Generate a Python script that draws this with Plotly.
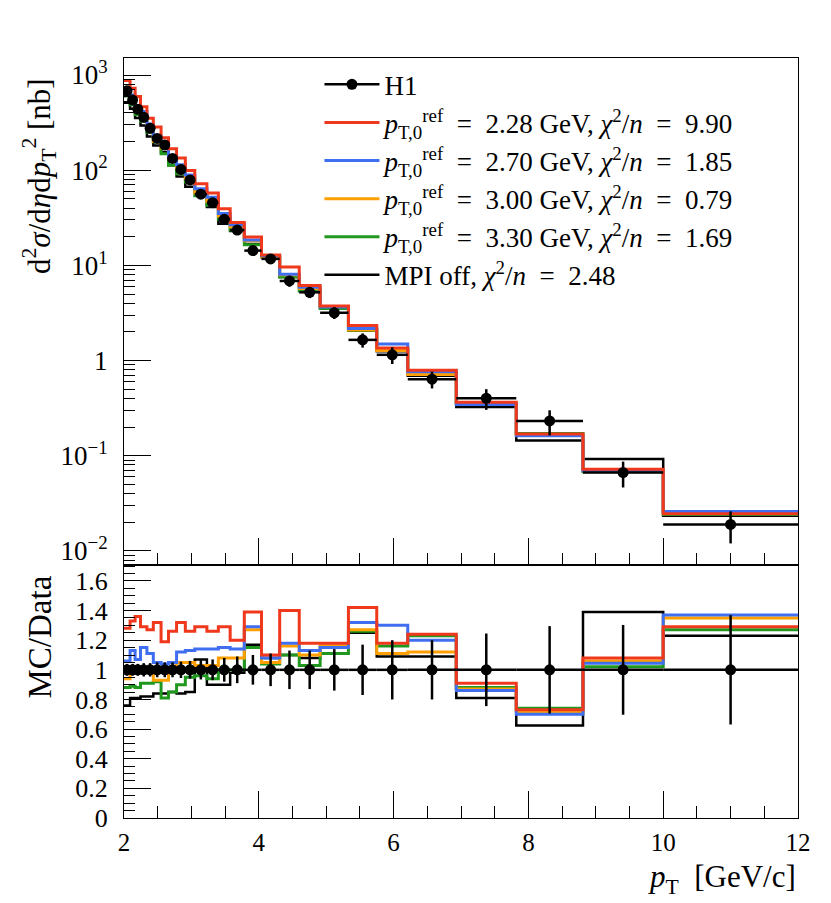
import numpy as np
import plotly.graph_objects as go
from plotly.subplots import make_subplots

# pT bin edges [GeV/c]
edges = [2.0, 2.09, 2.165, 2.245, 2.34, 2.435, 2.55, 2.66, 2.78, 2.91, 3.05, 3.23, 3.40, 3.575,
         3.785, 4.04, 4.31, 4.60, 4.91, 5.33, 5.75, 6.21, 6.93, 7.82, 8.81, 10.0, 12.0]

# H1 cross section [nb] and relative uncertainty
h1 = [683, 546, 437, 360, 276, 216, 184, 133, 102, 79, 56, 45.6, 30.5, 23.5, 14.3, 11.7,
      6.86, 5.21, 3.18, 1.65, 1.15, 0.637, 0.402, 0.232, 0.0666, 0.019]
h1_relerr = [0.04, 0.04, 0.04, 0.045, 0.045, 0.05, 0.05, 0.05, 0.055, 0.06, 0.065, 0.07, 0.08,
             0.09, 0.10, 0.11, 0.13, 0.13, 0.14, 0.17, 0.20, 0.20, 0.245, 0.295, 0.303, 0.369]

# MC/Data ratios
ratio_228 = [1.28, 1.33, 1.36, 1.29, 1.27, 1.32, 1.19, 1.26, 1.32, 1.26, 1.29, 1.26, 1.29,
             1.20, 1.39, 1.10, 1.40, 1.18, 1.18, 1.42, 1.18, 1.24, 0.91, 0.73, 1.08, 1.29]
ratio_270 = [1.06, 1.13, 1.07, 1.15, 1.11, 1.05, 1.04, 1.05, 1.12, 1.13, 1.14, 1.14, 1.15,
             1.14, 1.29, 1.08, 1.18, 1.13, 1.15, 1.32, 1.30, 1.20, 0.86, 0.70, 1.045, 1.37]
ratio_300 = [0.94, 1.00, 1.00, 0.99, 1.00, 0.93, 0.93, 0.99, 1.05, 1.05, 1.03, 1.03, 1.08,
             1.08, 1.27, 1.05, 1.16, 1.10, 1.16, 1.27, 1.11, 1.12, 0.87, 0.715, 1.06, 1.35]
ratio_330 = [0.88, 0.89, 0.88, 0.91, 0.91, 0.92, 0.81, 0.85, 0.90, 0.95, 0.96, 0.94, 1.00,
             1.00, 1.15, 1.04, 1.10, 1.03, 1.11, 1.26, 1.16, 1.23, 0.88, 0.74, 1.02, 1.27]
ratio_off = [0.76, 0.81, 0.81, 0.82, 0.82, 0.84, 0.84, 0.85, 0.84, 0.85, 1.07, 0.90, 0.90,
             0.98, 1.17, 1.08, 1.10, 1.08, 1.16, 1.25, 1.09, 1.09, 0.81, 0.625, 1.39, 1.23]

EQ = "&nbsp;&nbsp;=&nbsp;&nbsp;"
names = {
    "228": f"<i>p</i><sub>T,0</sub><sup>ref</sup>{EQ}2.28 GeV, <i>χ</i><sup>2</sup>/<i>n</i>{EQ}9.90",
    "270": f"<i>p</i><sub>T,0</sub><sup>ref</sup>{EQ}2.70 GeV, <i>χ</i><sup>2</sup>/<i>n</i>{EQ}1.85",
    "300": f"<i>p</i><sub>T,0</sub><sup>ref</sup>{EQ}3.00 GeV, <i>χ</i><sup>2</sup>/<i>n</i>{EQ}0.79",
    "330": f"<i>p</i><sub>T,0</sub><sup>ref</sup>{EQ}3.30 GeV, <i>χ</i><sup>2</sup>/<i>n</i>{EQ}1.69",
    "off": f"MPI off, <i>χ</i><sup>2</sup>/<i>n</i>{EQ}2.48",
}
colors = {"228": "#f0381c", "270": "#3f6ff0", "300": "#ffa000", "330": "#20981f", "off": "black"}
ratios = {"228": ratio_228, "270": ratio_270, "300": ratio_300, "330": ratio_330, "off": ratio_off}
ranks = {"228": 2, "270": 3, "300": 4, "330": 5, "off": 6}

e = np.array(edges)
centers = (e[:-1] + e[1:]) / 2
halfw = (e[1:] - e[:-1]) / 2
data = np.array(h1)

FONT = "Liberation Serif"

fig = make_subplots(rows=2, cols=1, shared_xaxes=True, vertical_spacing=0,
                    row_heights=[0.667, 0.333])

# histograms, drawn black first so red ends up on top
for key in ["off", "330", "300", "270", "228"]:
    r = np.array(ratios[key])
    mc = data * r
    lw = 2.5 if key == "off" else 3
    fig.add_trace(go.Scatter(x=e, y=list(mc) + [mc[-1]], mode="lines", line_shape="hv",
                             line=dict(color=colors[key], width=lw), name=names[key],
                             legendrank=ranks[key]), row=1, col=1)
    fig.add_trace(go.Scatter(x=e, y=list(r) + [r[-1]], mode="lines", line_shape="hv",
                             line=dict(color=colors[key], width=lw), showlegend=False),
                  row=2, col=1)

# H1 data
fig.add_trace(go.Scatter(x=centers, y=data, mode="markers",
                         marker=dict(color="black", size=11),
                         error_x=dict(type="data", array=halfw, color="black", thickness=2.5, width=0),
                         error_y=dict(type="data", array=data * np.array(h1_relerr), color="black",
                                      thickness=2.5, width=0),
                         showlegend=False), row=1, col=1)
fig.add_trace(go.Scatter(x=centers, y=np.ones(len(centers)), mode="markers",
                         marker=dict(color="black", size=11),
                         error_x=dict(type="data", array=halfw, color="black", thickness=2.5, width=0),
                         error_y=dict(type="data", array=h1_relerr, color="black",
                                      thickness=2.5, width=0),
                         showlegend=False), row=2, col=1)
# legend entry for data
fig.add_trace(go.Scatter(x=[None], y=[None], mode="lines+markers", name="H1",
                         line=dict(color="black", width=2.5), marker=dict(color="black", size=11),
                         legendrank=1), row=1, col=1)

axis_common = dict(showline=True, linecolor="black", linewidth=1, mirror=True,
                   showgrid=False, zeroline=False, ticks="inside", ticklen=27,
                   tickcolor="black", tickwidth=1)

fig.update_xaxes(range=[2, 12], dtick=2, tick0=2,
                 minor=dict(dtick=0.5, ticks="inside", ticklen=12, tickcolor="black"),
                 tickfont=dict(family=FONT, size=25, color="black"), **axis_common)
fig.update_xaxes(showticklabels=False, row=1, col=1)
fig.update_xaxes(ticklabelstandoff=2, row=2, col=1)

minor_log = [k * 10.0 ** p for p in range(-3, 4) for k in range(2, 10)]
fig.update_yaxes(type="log", range=[-2.147, 3.179],
                 tickmode="array", tickvals=[1e3, 1e2, 1e1, 1, 1e-1, 1e-2],
                 ticktext=["10<sup>3</sup>", "10<sup>2</sup>", "10<sup>1</sup>", "1",
                           "10<sup>−1</sup>", "10<sup>−2</sup>"],
                 minor=dict(tickmode="array", tickvals=minor_log, ticks="inside",
                            ticklen=11, tickcolor="black"),
                 tickfont=dict(family=FONT, size=27, color="black"),
                 ticklabelstandoff=10, row=1, col=1, **axis_common)
fig.update_yaxes(range=[0, 1.708], dtick=0.2, tick0=0,
                 minor=dict(dtick=0.05, ticks="inside", ticklen=11, tickcolor="black"),
                 tickfont=dict(family=FONT, size=26, color="black"),
                 ticklabelstandoff=10, row=2, col=1, **axis_common)

# page body has an 8px margin, so the figure is 8px smaller than the window
fig.update_layout(
    width=823, height=895,
    margin=dict(l=116, r=33, t=50, b=85),
    paper_bgcolor="white", plot_bgcolor="white",
    font=dict(family=FONT, color="black"),
    legend=dict(x=0.29, y=0.997, xanchor="left", yanchor="top",
                bgcolor="rgba(0,0,0,0)", font=dict(family=FONT, size=27),
                itemwidth=55, tracegroupgap=0),
    annotations=[
        dict(text="d<sup>2</sup><i>σ</i>/d<i>η</i>d<i>p</i><sub>T</sub><sup>2</sup> [nb]",
             xref="paper", yref="paper", x=-0.125, y=0.976, xanchor="center", yanchor="top",
             textangle=-90, showarrow=False, font=dict(family=FONT, size=31)),
        dict(text="MC/Data", xref="paper", yref="paper", x=-0.125, y=0.322,
             xanchor="center", yanchor="top", textangle=-90, showarrow=False,
             font=dict(family=FONT, size=33)),
        dict(text="<i>p</i><sub>T</sub>  [GeV/c]", xref="paper", yref="paper", x=1.0, y=-0.08,
             xanchor="right", yanchor="middle", showarrow=False,
             font=dict(family=FONT, size=31)),
    ],
)

fig.write_html("out.html")
